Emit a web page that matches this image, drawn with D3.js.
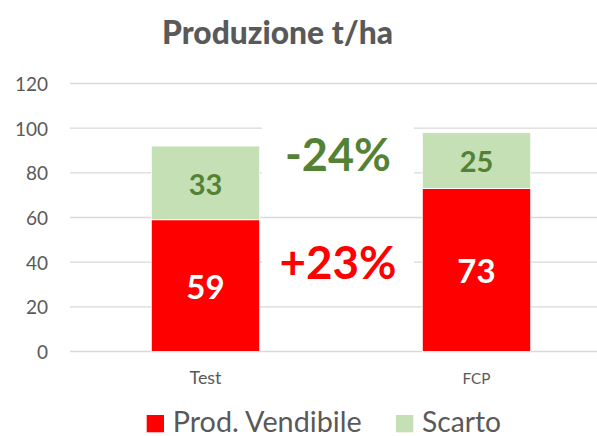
<!DOCTYPE html>
<html><head><meta charset="utf-8">
<script src="https://cdn.jsdelivr.net/npm/d3@7"></script>
<style>html,body{margin:0;padding:0;background:#fff;overflow:hidden}</style>
</head><body>
<svg id="chart" width="597" height="436"></svg>
<script>
const categories = ["Test", "FCP"];
const vendibile = [59, 73];
const scarto = [33, 25];
const yTicks = [0, 20, 40, 60, 80, 100, 120];
const seriesNames = ["Prod. Vendibile", "Scarto"];
const annotations = [{text: "-24%", level: 88, color: "#548235"}, {text: "+23%", level: 40, color: "#ff0000"}];
const title = "Produzione t/ha";

const svg = d3.select("#chart");
const FONT = "Lato, 'Open Sans', sans-serif";
const GRAY = "#595959";

const x = d3.scaleBand().domain(categories).range([70, 612]).paddingInner(0.6).paddingOuter(0.3);
const y = d3.scaleLinear().domain([0, 120]).range([351.5, 83.5]);

function fit(sel, w) {
  const n = sel.node();
  const cur = parseFloat(sel.attr("font-size"));
  const len = n.getComputedTextLength();
  sel.attr("font-size", (cur * w / len).toFixed(2));
  return sel;
}

// gridlines
svg.append("g").selectAll("line").data(yTicks).join("line")
  .attr("x1", 70).attr("x2", 612)
  .attr("y1", d => y(d)).attr("y2", d => y(d))
  .attr("stroke", "#d9d9d9").attr("stroke-width", 1.3);

// y axis labels
const yAxis = d3.axisLeft(y).tickValues(yTicks).tickSize(0).tickPadding(0);
const ga = svg.append("g").attr("transform", "translate(48,0)").call(yAxis);
ga.select(".domain").remove();
ga.selectAll("text").attr("font-family", FONT).attr("font-size", 19).attr("fill", GRAY).attr("dy", "0.36em");

// stacked data
const rows = categories.map((c, i) => ({cat: c, v: vendibile[i], s: scarto[i]}));
const stack = d3.stack().keys(["v", "s"])(rows);
const colors = ["#ff0000", "#c5e0b4"];
svg.append("g").selectAll("g").data(stack).join("g")
  .attr("fill", (d, i) => colors[i])
  .selectAll("rect").data(d => d).join("rect")
  .attr("x", d => x(d.data.cat)).attr("width", x.bandwidth())
  .attr("y", d => y(d[1])).attr("height", d => y(d[0]) - y(d[1]))
  .attr("stroke", "#fff").attr("stroke-width", 0.8);

// data labels
stack.forEach((layer, li) => {
  layer.forEach(d => {
    svg.append("text")
      .attr("x", x(d.data.cat) + x.bandwidth() / 2)
      .attr("y", (y(d[0]) + y(d[1])) / 2 + 1.5)
      .attr("dy", "0.36em")
      .attr("text-anchor", "middle")
      .attr("font-family", FONT).attr("font-weight", "bold")
      .attr("font-size", li === 0 ? 33 : 29)
      .attr("fill", li === 0 ? "#ffffff" : "#548235")
      .text(d[1] - d[0]);
  });
});

// annotations
const mid = (x("Test") + x("FCP") + x.bandwidth()) / 2 - 3;
annotations.forEach(a => {
  const g = svg.append("g");
  const rect = g.append("rect").attr("fill", "#fff");
  const t = g.append("text")
    .attr("x", mid).attr("y", y(a.level)).attr("dy", "0.36em")
    .attr("text-anchor", "middle")
    .attr("font-family", FONT).attr("font-weight", "bold").attr("font-size", 45)
    .attr("fill", a.color).text(a.text);
  fit(t, a.text === "-24%" ? 106 : 117);
  rect.attr("x", mid - 76).attr("width", 152)
      .attr("y", y(a.level) - 32).attr("height", 64);
});

// category labels
const catW = [32, 28];
categories.forEach((c, i) => {
  const t = svg.append("text")
    .attr("x", x(c) + x.bandwidth() / 2).attr("y", 383.5)
    .attr("text-anchor", "middle")
    .attr("font-family", FONT).attr("font-size", 17).attr("fill", GRAY)
    .text(c);
  fit(t, catW[i]);
});

// title
const tt = svg.append("text").attr("x", 277.5).attr("y", 43.5)
  .attr("text-anchor", "middle").attr("font-family", FONT).attr("font-weight", "900")
  .attr("font-size", 32).attr("fill", GRAY).text(title);
fit(tt, 231);

// legend
const legX = [146.7, 396];
const legW = [189, 79];
seriesNames.forEach((n, i) => {
  svg.append("rect").attr("x", legX[i]).attr("y", 415).attr("width", 17.3).attr("height", 17.3).attr("fill", colors[i]);
  const t = svg.append("text").attr("x", legX[i] + 26).attr("y", 431.5)
    .attr("font-family", FONT).attr("font-size", 27).attr("fill", GRAY).text(n);
  fit(t, legW[i]);
});
</script>
</body></html>
